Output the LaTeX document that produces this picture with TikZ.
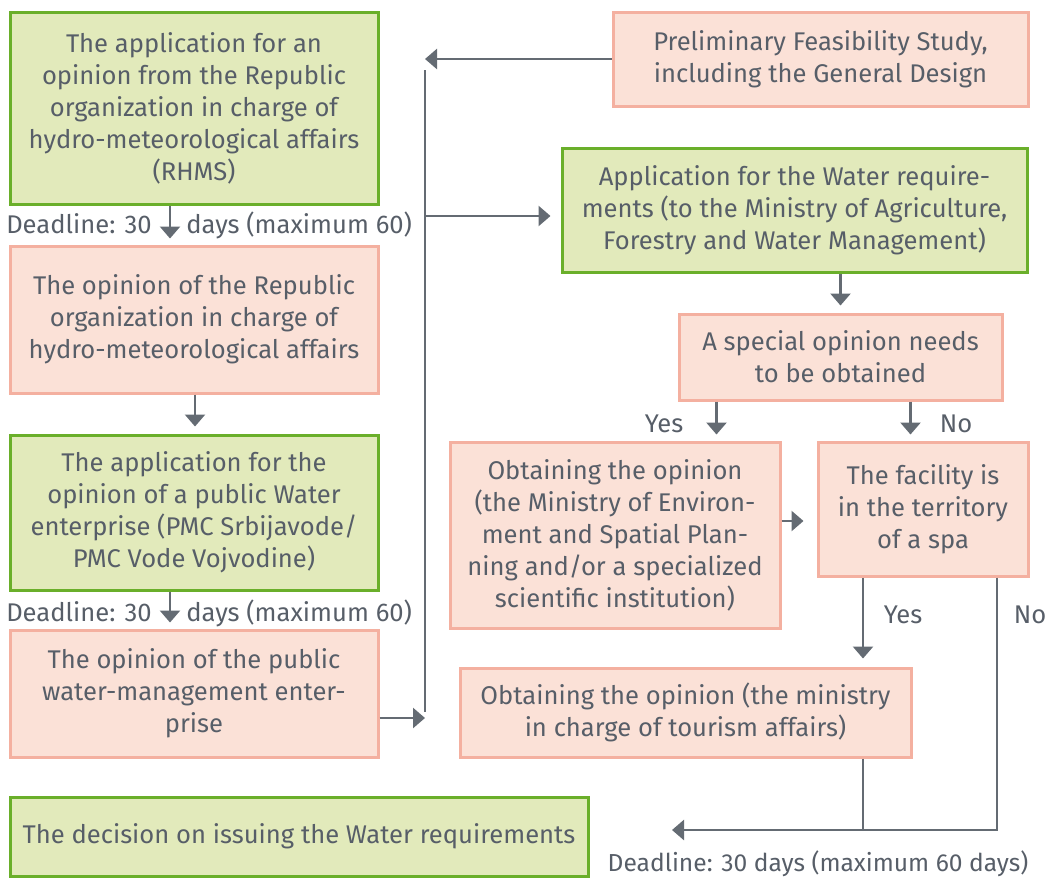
\documentclass[tikz,border=0pt]{standalone}
\usepackage{fontspec}
\setmainfont{Fira Sans}
\usetikzlibrary{arrows.meta,calc,positioning}
\definecolor{txtgray}{HTML}{575E68}
\definecolor{linegray}{HTML}{646B73}
\definecolor{greenfill}{HTML}{E2EABB}
\definecolor{greenedge}{HTML}{6AAF2A}
\definecolor{pinkfill}{HTML}{FBE1D7}
\definecolor{pinkedge}{HTML}{F4B0A0}
\tikzset{
  box/.style={draw, line width=1.5pt, align=center, text=txtgray, inner sep=0pt,
    font=\fontsize{12.8}{16}\selectfont},
  greenbox/.style={box, fill=greenfill, draw=greenedge},
  pinkbox/.style={box, fill=pinkfill, draw=pinkedge},
  conn/.style={draw=linegray, line width=1.3pt},
  arr/.style={conn, -{Triangle[width=10pt,length=6pt]}, shorten >=3pt},
  lbl/.style={text=txtgray, inner sep=0pt, font=\fontsize{12.8}{16}\selectfont}
}
\begin{document}
\begin{tikzpicture}[x=0.5pt,y=-0.5pt]
    \useasboundingbox (0,0) rectangle (1049,878);
    % Left column
    \node[greenbox, minimum width=184pt, minimum height=96pt] (appRHMS) at (194,108)
        {The application for an\\opinion from the Republic\\organization in charge of\\hydro-meteorological affairs\\(RHMS)};
    \node[pinkbox, minimum width=184pt, minimum height=73.5pt] (opRHMS) at (194,319.5)
        {The opinion of the Republic\\organization in charge of\\hydro-meteorological affairs};
    \node[greenbox, minimum width=184pt, minimum height=77.5pt] (appPMC) at (194,512.5)
        {The application for the\\opinion of a public Water\\enterprise (PMC Srbijavode/\\PMC Vode Vojvodine)};
    \node[pinkbox, minimum width=184pt, minimum height=63.5pt] (opPMC) at (194,693.5)
        {The opinion of the public\\water-management enter-\\prise};
    \node[greenbox, minimum width=289pt, minimum height=39.5pt] (decision) at (299,836.5)
        {The decision on issuing the Water requirements};

    % Right column
    \node[pinkbox, minimum width=207.5pt, minimum height=47pt] (feasib) at (820.5,59)
        {Preliminary Feasibility Study,\\including the General Design};
    \node[greenbox, minimum width=232.5pt, minimum height=62pt] (waterReq) at (794.5,210)
        {Application for the Water require-\\ments (to the Ministry of Agriculture,\\Forestry and Water Management)};
    \node[pinkbox, minimum width=161.5pt, minimum height=43pt] (special) at (840.5,357)
        {A special opinion needs\\to be obtained};
    \node[pinkbox, minimum width=165pt, minimum height=93pt] (obtEnv) at (615,535)
        {Obtaining the opinion\\(the Ministry of Environ-\\ment and Spatial Plan-\\ning and/or a specialized\\scientific institution)};
    \node[pinkbox, minimum width=105pt, minimum height=67pt] (spa) at (923,509)
        {The facility is\\in the territory\\of a spa};
    \node[pinkbox, minimum width=225.5pt, minimum height=44.5pt] (tourism) at (685.5,712.5)
        {Obtaining the opinion (the ministry\\in charge of tourism affairs)};

    % Labels
    \node[lbl, anchor=base east] (dlRHMSa) at (152,233) {Deadline: 30};
    \node[lbl, anchor=base west] (dlRHMSb) at (186,233) {days (maximum 60)};
    \node[lbl, anchor=base east] (dlPMCa) at (152,621) {Deadline: 30};
    \node[lbl, anchor=base west] (dlPMCb) at (186,621) {days (maximum 60)};
    \node[lbl, anchor=base] (yesSpecial) at (664,432) {Yes};
    \node[lbl, anchor=base] (noSpecial) at (956,432) {No};
    \node[lbl, anchor=base] (yesSpa) at (903,623) {Yes};
    \node[lbl, anchor=base] (noSpa) at (1030,623) {No};
    \node[lbl, anchor=base, font=\fontsize{12.3}{16}\selectfont] (dlFinal) at (818,871)
        {Deadline: 30 days (maximum 60 days)};

    % Left column arrows
    \draw[arr] ($(appRHMS.south)+(-24,0)$) -- ($(opRHMS.north)+(-24,0)$);
    \draw[arr, shorten >=3.5pt] ($(opRHMS.south)+(1,0)$) -- ($(appPMC.north)+(1,0)$);
    \draw[arr] ($(appPMC.south)+(-24,0)$) -- ($(opPMC.north)+(-24,0)$);

    % Collecting line
    \coordinate (busTop) at (425,70);
    \coordinate (busBot) at (425,712);
    \coordinate (busIn) at (425,718);
    \coordinate (busOut) at (425,216);
    \draw[conn] (busTop) -- (busBot);
    \draw[arr, shorten >=0pt] (feasib.west) -- (feasib.west -| busTop);
    \draw[arr, shorten >=0pt] (opPMC.east |- busIn) -- (busIn);
    \draw[arr, shorten >=5pt] (busOut) -- (busOut -| waterReq.west);

    % Right column arrows
    \draw[arr, shorten >=3.5pt] (waterReq.south -| special.north) -- (special.north);
    \draw[arr] ($(special.south)+(-124,0)$) -- ($(special.south |- obtEnv.north)+(-124,0)$);
    \draw[arr] ($(special.south)+(70,0)$) -- ($(special.south |- spa.north)+(70,0)$);
    \draw[arr, shorten >=6.5pt] ($(obtEnv.east)+(0,-14)$) -- ($(obtEnv.east -| spa.west)+(0,-14)$);
    \draw[arr, shorten >=4pt] ($(spa.south)+(-60,0)$) -- ($(spa.south |- tourism.north)+(-60,0)$);

    % To the decision
    \coordinate (decIn) at (672,830);
    \draw[arr, shorten >=0pt] ($(spa.south)+(74,0)$) |- (decIn);
    \draw[conn] ($(tourism.south)+(177.5,0)$) -- ($(tourism.south |- decIn)+(177.5,0)$);
\end{tikzpicture}
\end{document}
